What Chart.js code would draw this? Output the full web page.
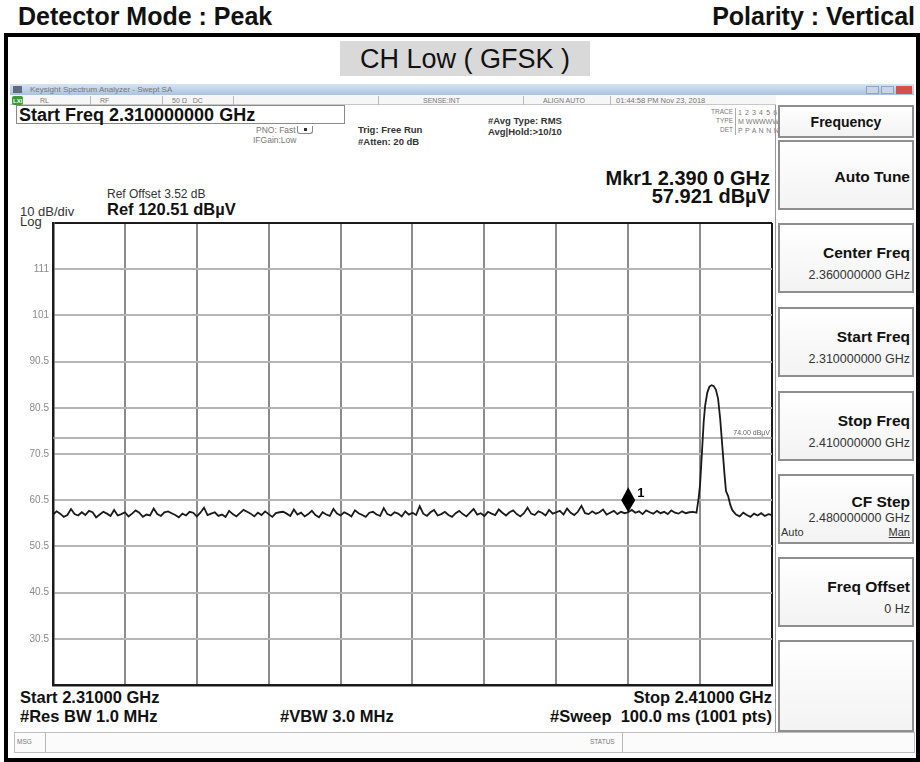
<!DOCTYPE html>
<html>
<head>
<meta charset="utf-8">
<title>CH Low ( GFSK )</title>
<script src="https://cdn.jsdelivr.net/npm/chart.js@4.4.0/dist/chart.umd.min.js"></script>
<style>
  html, body { margin: 0; padding: 0; background: #fff; }
  #page { position: relative; width: 920px; height: 762px; overflow: hidden;
          font-family: "Liberation Sans", Arial, sans-serif; color: #111; }
  #plot { position: absolute; left: 0; top: 0; width: 920px; height: 762px; }
  .t { position: absolute; white-space: nowrap; line-height: 1; }
  .b { font-weight: bold; }
  .r { text-align: right; }
  .g { color: #777; }
  .box { position: absolute; box-sizing: border-box; }
  .key { position: absolute; left: 778px; width: 136px; box-sizing: border-box;
         border: 2px solid #8e8e8e; background: linear-gradient(#ffffff, #f3f3f3); }
  .key .k1 { position: absolute; right: 2px; font-weight: bold; font-size: 15.5px; line-height: 1; }
  .key .k2 { position: absolute; right: 2px; font-size: 12.5px; line-height: 1; color: #333; }
  .sep { position: absolute; width: 1px; background: #b8b8b8; }
</style>
</head>
<body>
<div id="page">
  <!-- report header -->
  <div class="t b" style="left:18px; top:4px; font-size:25px;">Detector Mode : Peak</div>
  <div class="t b" style="right:5px; top:4px; font-size:25px;">Polarity : Vertical</div>
  <div class="box" style="left:4px; top:33px; width:916px; height:729px; border:4px solid #000;"></div>
  <div class="box" style="left:340px; top:41px; width:250px; height:35px; background:#d9d9d9;"></div>
  <div class="t" style="left:340px; top:46px; width:250px; text-align:center; font-size:27px;">CH Low ( GFSK )</div>

  <!-- analyzer window chrome -->
  <div class="box" style="left:10px; top:84px; width:904px; height:11px; background:linear-gradient(#d6e4f3, #a9c3df);"></div>
  <div class="box" style="left:13px; top:86px; width:9px; height:7px; background:#5d6b7c;"></div>
  <div class="t g" style="left:30px; top:86px; font-size:8px;">Keysight Spectrum Analyzer - Swept SA</div>
  <div class="box" style="left:866px; top:86px; width:13px; height:8px; background:#c9d6e6; border:1px solid #8fa4bd;"></div>
  <div class="box" style="left:881px; top:86px; width:13px; height:8px; background:#c9d6e6; border:1px solid #8fa4bd;"></div>
  <div class="box" style="left:896px; top:86px; width:16px; height:8px; background:#d0524a;"></div>

  <div class="box" style="left:10px; top:95px; width:766px; height:10px; background:#f6f6f6; border-bottom:1px solid #c8c8c8;"></div>
  <div class="box" style="left:12px; top:96px; width:11px; height:9px; background:#3c9a32; border-radius:2px;"></div>
  <div class="t" style="left:13px; top:98px; font-size:6px; color:#fff; font-weight:bold;">LXI</div>
  <div class="t g" style="left:40px; top:97px; font-size:7px;">RL</div>
  <div class="t g" style="left:100px; top:97px; font-size:7px;">RF</div>
  <div class="t g" style="left:172px; top:97px; font-size:7px;">50 Ω&nbsp;&nbsp;&nbsp;DC</div>
  <div class="t g" style="left:423px; top:97px; font-size:7px;">SENSE:INT</div>
  <div class="t g" style="left:543px; top:97px; font-size:7px;">ALIGN AUTO</div>
  <div class="t g" style="left:616px; top:97px; font-size:7.5px;">01:44:58 PM Nov 23, 2018</div>
  <div class="sep" style="left:90px; top:96px; height:9px;"></div>
  <div class="sep" style="left:162px; top:96px; height:9px;"></div>
  <div class="sep" style="left:233px; top:96px; height:9px;"></div>
  <div class="sep" style="left:378px; top:96px; height:9px;"></div>
  <div class="sep" style="left:523px; top:96px; height:9px;"></div>
  <div class="sep" style="left:610px; top:96px; height:9px;"></div>

  <div class="box" style="left:16px; top:105px; width:329px; height:19px; border:1px solid #8a8a8a;"></div>
  <div class="t b" style="left:19px; top:106px; font-size:18px;">Start Freq 2.310000000 GHz</div>

  <div class="t g" style="left:256px; top:126px; font-size:8.5px;">PNO: Fast</div>
  <div class="t g" style="left:253px; top:136px; font-size:8.5px;">IFGain:Low</div>
  <div class="box" style="left:297px; top:126px; width:16px; height:8px; border:1px solid #888; border-top:none; border-radius:0 0 3px 3px;"></div>
  <div class="box" style="left:304px; top:128px; width:3px; height:3px; background:#333;"></div>
  <div class="t b" style="left:358px; top:125px; font-size:9.5px; color:#333;">Trig: Free Run</div>
  <div class="t b" style="left:358px; top:137px; font-size:9.5px; color:#333;">#Atten: 20 dB</div>
  <div class="t b" style="left:488px; top:116px; font-size:9.5px; color:#333;">#Avg Type: RMS</div>
  <div class="t b" style="left:488px; top:127px; font-size:9.5px; color:#333;">Avg|Hold:&gt;10/10</div>

  <div class="t g r" style="left:680px; width:53px; top:109px; font-size:6.5px;">TRACE</div>
  <div class="t g r" style="left:680px; width:53px; top:118px; font-size:6.5px;">TYPE</div>
  <div class="t g r" style="left:680px; width:53px; top:127px; font-size:6.5px;">DET</div>
  <div class="box" style="left:735px; top:108px; width:37px; height:27px; border-left:1px solid #aaa;"></div>
  <div class="t g" style="left:738px; top:109px; font-size:7px; letter-spacing:0.6px;">1 2 3 4 5 6</div>
  <div class="t g" style="left:738px; top:118px; font-size:7px;">M WWWWW</div>
  <div class="t g" style="left:738px; top:127px; font-size:7px; letter-spacing:0.3px;">P P A N N N</div>

  <div class="t" style="left:107px; top:188px; font-size:12px; color:#333;">Ref Offset 3.52 dB</div>
  <div class="t b" style="left:107px; top:201px; font-size:16.5px;">Ref 120.51 dBµV</div>
  <div class="t" style="left:20px; top:205px; font-size:13px; color:#333;">10 dB/div</div>
  <div class="t" style="left:20px; top:215px; font-size:13px; color:#333;">Log</div>
  <div class="t b r" style="right:150px; top:168px; font-size:20px;">Mkr1 2.390 0 GHz</div>
  <div class="t b r" style="right:150px; top:186px; font-size:20px;">57.921 dBµV</div>

  <div class="t b" style="left:20px; top:689px; font-size:16.5px;">Start 2.31000 GHz</div>
  <div class="t b" style="left:20px; top:708px; font-size:16.5px;">#Res BW 1.0 MHz</div>
  <div class="t b" style="left:280px; top:708px; font-size:16.5px;">#VBW 3.0 MHz</div>
  <div class="t b r" style="right:148px; top:689px; font-size:16.5px;">Stop 2.41000 GHz</div>
  <div class="t b r" style="right:148px; top:708px; font-size:16.5px;">#Sweep&nbsp;&nbsp;100.0 ms (1001 pts)</div>

  <div class="box" style="left:14px; top:732px; width:901px; height:21px; border:1px solid #bdbdbd; background:#fbfbfb;"></div>
  <div class="sep" style="left:45px; top:733px; height:19px;"></div>
  <div class="sep" style="left:622px; top:733px; height:19px;"></div>
  <div class="t g" style="left:17px; top:739px; font-size:6.5px;">MSG</div>
  <div class="t g" style="left:590px; top:739px; font-size:6.5px;">STATUS</div>

  <!-- soft keys -->
  <div class="sep" style="left:775px; top:105px; height:627px; background:#999;"></div>
  <div class="key" style="top:105px; height:33px;"><div class="k1" style="right:0; left:0; text-align:center; top:8px; font-size:14px;">Frequency</div></div>
  <div class="key" style="top:140px; height:70px;"><div class="k1" style="top:27px;">Auto Tune</div></div>
  <div class="key" style="top:223px; height:70px;"><div class="k1" style="top:20px;">Center Freq</div><div class="k2" style="top:44px;">2.360000000 GHz</div></div>
  <div class="key" style="top:307px; height:70px;"><div class="k1" style="top:20px;">Start Freq</div><div class="k2" style="top:44px;">2.310000000 GHz</div></div>
  <div class="key" style="top:391px; height:70px;"><div class="k1" style="top:20px;">Stop Freq</div><div class="k2" style="top:44px;">2.410000000 GHz</div></div>
  <div class="key" style="top:474px; height:70px;"><div class="k1" style="top:18px;">CF Step</div><div class="k2" style="top:36px;">2.480000000 GHz</div>
    <div class="k2" style="left:1px; right:auto; top:51px; font-size:11px;">Auto</div><div class="k2" style="top:51px; font-size:11px; text-decoration:underline;">Man</div></div>
  <div class="key" style="top:557px; height:70px;"><div class="k1" style="top:20px;">Freq Offset</div><div class="k2" style="top:44px;">0 Hz</div></div>
  <div class="key" style="top:640px; height:92px;"></div>

  <div id="plot"><canvas id="spectrum"></canvas></div>
</div>

<script>
// sweep: 2.31 - 2.41 GHz, trace levels in dBuV
var sweepStart = 2.31;
var sweepStop = 2.41;
var sweepStep = 0.0005;

// noise floor 2.3100 .. 2.3995 GHz
var noiseLow = [
    57.4, 58.1, 57.6, 56.9, 57.3, 58.6, 57.5, 57.2, 57.9, 57.3, 58.2, 57.9, 56.8, 57.4, 58.0, 57.6, 57.1, 58.4, 57.2, 57.5,
    57.9, 57.0, 57.6, 58.3, 57.8, 56.9, 57.4, 57.2, 58.7, 57.5, 57.1, 57.9, 58.1, 57.7, 57.3, 56.8, 57.6, 57.2, 58.0, 57.8,
    57.0, 57.8, 58.9, 57.3, 57.6, 57.9, 57.1, 57.4, 56.9, 58.2, 57.5, 57.0, 57.7, 58.4, 58.0, 57.6, 57.0, 57.8, 57.3, 58.1,
    57.5, 56.9, 57.7, 57.9, 58.0, 57.6, 57.1, 58.5, 57.4, 57.8, 57.0, 57.5, 58.2, 57.3, 56.8, 57.9, 57.4, 57.1, 58.6, 57.6,
    57.2, 57.9, 57.5, 57.0, 58.3, 57.7, 57.3, 56.9, 57.8, 58.0, 57.4, 57.1, 58.8, 57.5, 57.2, 57.9, 57.6, 57.0, 58.1, 57.4,
    57.8, 57.3, 59.2, 57.6, 57.1, 57.9, 58.4, 57.2, 57.5, 58.0, 57.3, 56.9, 57.7, 58.2, 57.5, 57.0, 57.8, 58.6, 57.4, 57.7,
    57.1, 58.0, 57.6, 57.3, 58.5, 57.8, 57.2, 57.9, 58.3, 57.5, 57.0, 57.7, 58.9, 57.6, 57.3, 58.1, 57.8, 57.2, 58.4, 57.6,
    57.9, 58.2, 57.4, 58.7, 57.8, 57.3, 58.0, 59.3, 57.7, 57.5, 58.1, 57.6, 57.9, 58.5, 57.4, 57.8, 58.2, 57.5, 58.0, 57.7,
    57.9, 58.4, 57.8, 58.1, 57.5, 58.3, 57.9, 57.6, 58.2, 57.7, 58.0, 57.5, 58.3, 57.8, 57.6, 58.1, 57.7, 57.9, 58.0, 57.8
];

// carrier at 2402 MHz
var signalFreq = [2.3998, 2.4000, 2.4003, 2.4005, 2.4007, 2.4010, 2.4013, 2.4016, 2.4019,
                  2.4022, 2.4025, 2.4028, 2.4031, 2.4034, 2.4036, 2.4039, 2.4042, 2.4045];
var signalLevel = [61.0, 64.0, 72.0, 77.5, 81.0, 83.8, 85.1, 85.4, 85.2,
                   84.4, 82.5, 78.0, 72.0, 66.0, 62.5, 61.4, 59.5, 58.3];

// noise floor 2.4050 .. 2.4100 GHz
var noiseHighStart = 2.405;
var noiseHigh = [57.4, 57.0, 57.8, 57.3, 56.9, 57.6, 57.2, 57.7, 57.1, 57.5, 57.3];

var displayLine = 74.00;
var markerFreq = 2.390;
var markerLevel = 57.921;

var freqTicks = [2.31, 2.32, 2.33, 2.34, 2.35, 2.36, 2.37, 2.38, 2.39, 2.40, 2.41];
var levelTicks = [20.51, 30.51, 40.51, 50.51, 60.51, 70.51, 80.51, 90.51, 100.51, 110.51, 120.51];
var levelTickLabels = ['', '30.5', '40.5', '50.5', '60.5', '70.5', '80.5', '90.5', '101', '111', ''];


var trace = [];
noiseLow.forEach(function (v, i) { trace.push({ x: sweepStart + i * sweepStep, y: v }); });
signalFreq.forEach(function (f, i) { trace.push({ x: f, y: signalLevel[i] }); });
noiseHigh.forEach(function (v, i) { trace.push({ x: noiseHighStart + i * sweepStep, y: v }); });

// marker diamond + display line label
var markerPlugin = {
    id: 'mkr',
    afterDatasetsDraw: function (chart) {
        var ctx = chart.ctx;
        var x = chart.scales.x, y = chart.scales.y;
        var px = x.getPixelForValue(markerFreq);
        var py = y.getPixelForValue(markerLevel);
        ctx.save();
        ctx.fillStyle = '#000';
        ctx.beginPath();
        ctx.moveTo(px, py);
        ctx.lineTo(px + 7, py - 12);
        ctx.lineTo(px, py - 25);
        ctx.lineTo(px - 7, py - 12);
        ctx.closePath();
        ctx.fill();
        ctx.font = 'bold 13px "Liberation Sans", Arial';
        ctx.fillText('1', px + 9, py - 15);

        ctx.fillStyle = '#666';
        ctx.font = '7px "Liberation Sans", Arial';
        ctx.textAlign = 'right';
        ctx.fillText(displayLine.toFixed(2) + ' dBµV', chart.chartArea.right - 2, y.getPixelForValue(displayLine) - 3);
        ctx.restore();
    }
};

var ctx = document.getElementById('spectrum').getContext('2d');

new Chart(ctx, {
    type: 'line',
    data: {
        datasets: [{
            label: 'Trace 1',
            data: trace,
            borderColor: '#1a1a1a',
            borderWidth: 1.8,
            pointRadius: 0,
            tension: 0
        }, {
            label: 'Display line',
            data: [{ x: sweepStart, y: displayLine }, { x: sweepStop, y: displayLine }],
            borderColor: '#9a9a9a',
            borderWidth: 1.5,
            pointRadius: 0
        }]
    },
    options: {
        responsive: true,
        maintainAspectRatio: false,
        animation: false,
        layout: { padding: { left: 13, top: 223, right: 148, bottom: 77 } },
        plugins: {
            legend: { display: false },
            tooltip: { enabled: false }
        },
        scales: {
            x: {
                type: 'linear',
                min: sweepStart,
                max: sweepStop,
                afterBuildTicks: function (s) { s.ticks = freqTicks.map(function (v) { return { value: v }; }); },
                afterFit: function (s) { s.height = 0; },
                ticks: { display: false },
                grid: {
                    drawTicks: false,
                    lineWidth: 2,
                    color: function (c) { return (c.index === 0 || c.index === freqTicks.length - 1) ? '#1a1a1a' : '#8c8c8c'; }
                },
                border: { display: true, color: '#1a1a1a', width: 2.5 }
            },
            y: {
                min: levelTicks[0],
                max: levelTicks[levelTicks.length - 1],
                afterBuildTicks: function (s) { s.ticks = levelTicks.map(function (v) { return { value: v }; }); },
                afterFit: function (s) { s.width = 40; },
                ticks: {
                    callback: function (v, i) { return levelTickLabels[i]; },
                    color: '#8a8a8a',
                    font: { size: 10, family: '"Liberation Sans", Arial' },
                    padding: 4
                },
                grid: {
                    drawTicks: false,
                    lineWidth: 2,
                    color: function (c) { return (c.index === 0 || c.index === levelTicks.length - 1) ? '#1a1a1a' : '#b5b5b5'; }
                },
                border: { display: true, color: '#1a1a1a', width: 2.5 }
            }
        }
    },
    plugins: [markerPlugin]
});
</script>
</body>
</html>
